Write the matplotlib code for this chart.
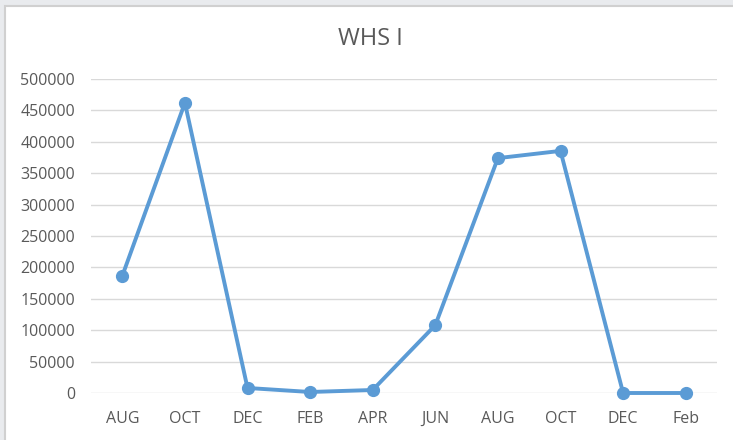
import matplotlib
matplotlib.use("Agg")
import matplotlib.pyplot as plt
from matplotlib.patches import Rectangle

categories = ["AUG", "OCT", "DEC", "FEB", "APR", "JUN", "AUG", "OCT", "DEC", "Feb"]
values = [186500, 462000, 8000, 1600, 4800, 108000, 374000, 385500, 0, 0]
yticks = [0, 50000, 100000, 150000, 200000, 250000, 300000, 350000, 400000, 450000, 500000]

plt.rcParams['font.family'] = ['Open Sans', 'DejaVu Sans']

fig = plt.figure(figsize=(7.33, 4.40), dpi=100)
fig.patch.set_facecolor('#e9ebee')
# white chart area with a light border
fig.patches.append(Rectangle((5/733, -0.01), 1, 1 - 6/440 + 0.01, transform=fig.transFigure,
                             facecolor='white', edgecolor='#d0d0d0', linewidth=1.5, zorder=-10))

ax = fig.add_axes([91/733, 1 - 393/440, (717 - 91)/733, (393 - 79)/440])
ax.set_facecolor('none')
x = list(range(len(categories)))
ax.plot(x, values, color='#5B9BD5', linewidth=2.8, marker='o', markersize=8.5,
        solid_capstyle='round', solid_joinstyle='round', zorder=3, clip_on=False)
ax.set_xlim(-0.5, len(categories) - 0.5)
ax.set_ylim(0, 500000)
ax.set_yticks(yticks)
ax.set_yticklabels([str(v) for v in yticks])
ax.set_xticks(x)
ax.set_xticklabels(categories)
ax.grid(axis='y', color='#d9d9d9', linewidth=1)
ax.set_axisbelow(True)
for s in ax.spines.values():
    s.set_visible(False)
ax.tick_params(axis='both', length=0, labelsize=11.5, labelcolor='#595959')
ax.tick_params(axis='x', pad=13)
ax.tick_params(axis='y', pad=11.5)

fig.text(370/733, 1 - 39/440, "WHS I", ha='center', va='center', fontsize=17, color='#595959')

fig.savefig("out.png", dpi=100, facecolor=fig.get_facecolor())
